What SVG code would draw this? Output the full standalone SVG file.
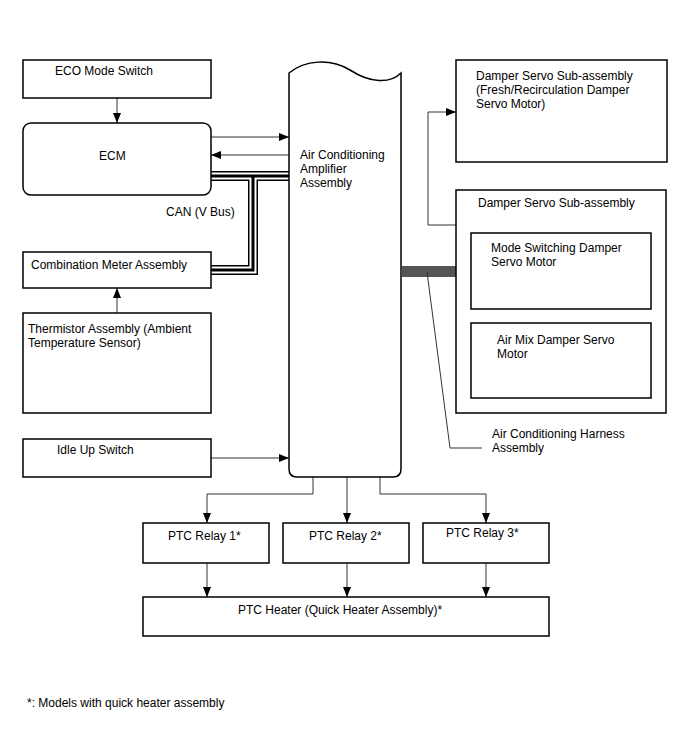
<svg xmlns="http://www.w3.org/2000/svg" width="688" height="755" viewBox="0 0 688 755">
<defs>
<marker id="ah" viewBox="0 0 10 8" refX="10" refY="4" markerWidth="10" markerHeight="8" markerUnits="userSpaceOnUse" orient="auto">
<path d="M0,0 L10,4 L0,8 Z" fill="#000"/>
</marker>
<style>
.box{fill:#fff;stroke:#000;stroke-width:1.5}
.t{font-family:"Liberation Sans",Arial,sans-serif;font-size:12px;fill:#000}
.c{fill:none;stroke:#333;stroke-width:1}
.ca{fill:none;stroke:#333;stroke-width:1;marker-end:url(#ah)}
.can1{fill:none;stroke:#000;stroke-width:10}
.can2{fill:none;stroke:#fff;stroke-width:7}
.can3{fill:none;stroke:#000;stroke-width:3}
</style>
</defs>
<rect width="688" height="755" fill="#fff"/>

<g id="connectors">
<line class="ca" x1="117" y1="98" x2="117" y2="123"/>
<line class="ca" x1="211" y1="137" x2="289" y2="137"/>
<line class="ca" x1="289" y1="155" x2="211" y2="155"/>
<line class="ca" x1="117" y1="313" x2="117" y2="288"/>
<line class="ca" x1="211" y1="458" x2="289" y2="458"/>
<polyline class="ca" points="456,225 428,225 428,112 456,112"/>
<polyline class="ca" points="313,477 313,494 207,494 207,523"/>
<line class="ca" x1="347" y1="477" x2="347" y2="523"/>
<polyline class="ca" points="380,477 380,494 486,494 486,523"/>
<line class="ca" x1="207" y1="563" x2="207" y2="597"/>
<line class="ca" x1="347" y1="563" x2="347" y2="597"/>
<line class="ca" x1="486" y1="563" x2="486" y2="597"/>
<g id="can-bus">
<path class="can1" d="M211,176 H289 M211,270 H253 V176"/>
<path class="can2" d="M211,176 H289 M211,270 H253 V176"/>
<path class="can3" d="M211,176 H289 M211,270 H253 V176"/>
</g>
<rect id="harness" x="402" y="266" width="54" height="11" fill="#555"/>
<polyline class="c" points="427,272 450,448 482,448"/>
</g>

<g id="eco-mode-switch">
<rect class="box" x="23" y="60" width="188" height="38"/>
<text class="t" x="55" y="75">ECO Mode Switch</text>
</g>
<g id="ecm">
<rect class="box" x="23" y="123" width="188" height="72" rx="8"/>
<text class="t" x="99" y="160">ECM</text>
</g>
<g id="combination-meter">
<rect class="box" x="23" y="252" width="188" height="36"/>
<text class="t" x="31" y="269">Combination Meter Assembly</text>
</g>
<g id="thermistor">
<rect class="box" x="23" y="313" width="188" height="100"/>
<text class="t" x="28" y="333">Thermistor Assembly (Ambient</text>
<text class="t" x="28" y="347">Temperature Sensor)</text>
</g>
<g id="idle-up-switch">
<rect class="box" x="23" y="439" width="188" height="38"/>
<text class="t" x="57" y="454">Idle Up Switch</text>
</g>
<text class="t" x="166" y="216">CAN (V Bus)</text>

<g id="amplifier">
<path class="box" d="M289,73 C305,60 330,58 350,70 C370,83 390,84 401,73 V469 Q401,477 393,477 H297 Q289,477 289,469 Z"/>
<text class="t" x="300" y="159">Air Conditioning</text>
<text class="t" x="300" y="173">Amplifier</text>
<text class="t" x="300" y="187">Assembly</text>
</g>

<g id="damper-fresh">
<rect class="box" x="456" y="60" width="211" height="102"/>
<text class="t" x="476" y="80">Damper Servo Sub-assembly</text>
<text class="t" x="476" y="94">(Fresh/Recirculation Damper</text>
<text class="t" x="476" y="108">Servo Motor)</text>
</g>
<g id="damper-sub">
<rect class="box" x="456" y="190" width="210" height="223"/>
<text class="t" x="478" y="207">Damper Servo Sub-assembly</text>
<g id="mode-switching">
<rect class="box" x="471" y="233" width="180" height="76"/>
<text class="t" x="491" y="252">Mode Switching Damper</text>
<text class="t" x="491" y="266">Servo Motor</text>
</g>
<g id="air-mix">
<rect class="box" x="471" y="323" width="180" height="75"/>
<text class="t" x="497" y="344">Air Mix Damper Servo</text>
<text class="t" x="497" y="358">Motor</text>
</g>
</g>
<text class="t" x="492" y="438">Air Conditioning Harness</text>
<text class="t" x="492" y="452">Assembly</text>

<g id="ptc-relay-1">
<rect class="box" x="143" y="523" width="126" height="40"/>
<text class="t" x="168" y="540">PTC Relay 1*</text>
</g>
<g id="ptc-relay-2">
<rect class="box" x="283" y="523" width="126" height="40"/>
<text class="t" x="309" y="540">PTC Relay 2*</text>
</g>
<g id="ptc-relay-3">
<rect class="box" x="423" y="523" width="126" height="40"/>
<text class="t" x="446" y="537">PTC Relay 3*</text>
</g>
<g id="ptc-heater">
<rect class="box" x="143" y="597" width="406" height="39"/>
<text class="t" x="238" y="614">PTC Heater (Quick Heater Assembly)*</text>
</g>
<text class="t" x="27" y="707">*: Models with quick heater assembly</text>
</svg>
